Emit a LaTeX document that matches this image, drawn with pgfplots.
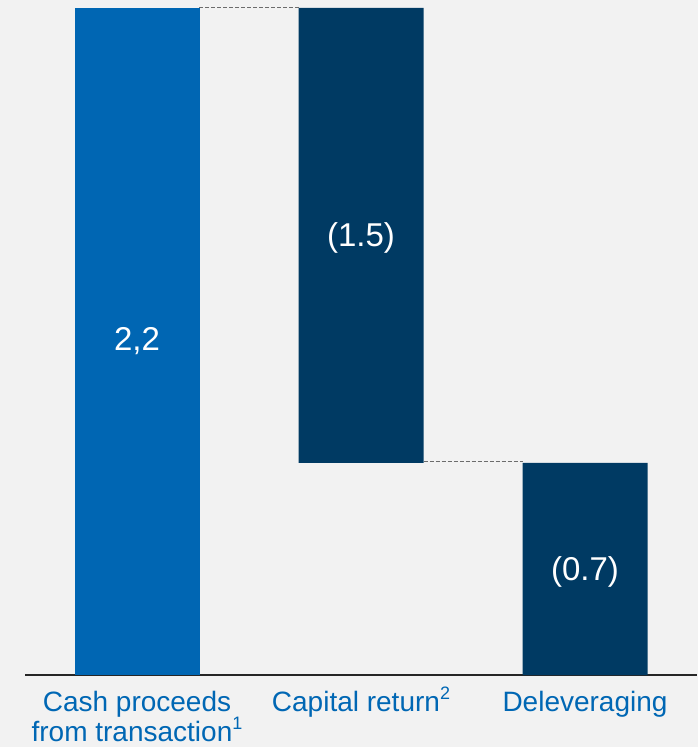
\documentclass[border=0pt]{standalone}
\usepackage{pgfplots}
\pgfplotsset{compat=1.18}
\usepackage{fontspec}
\setmainfont{Liberation Sans}
\definecolor{bgc}{HTML}{F2F2F2}
\definecolor{blueA}{HTML}{0066B3}
\definecolor{navy}{HTML}{003A63}
\definecolor{lab}{HTML}{0067B4}
\newcommand{\sups}[1]{\raisebox{0.42em}[0pt][0pt]{\fontsize{18}{18}\selectfont #1}}
\begin{document}
\begin{tikzpicture}[x=1pt,y=1pt]
\fill[bgc] (0,0) rectangle (698,747);
\begin{axis}[
  at={(25pt,72pt)}, anchor=south west,
  scale only axis, width=672pt, height=667pt,
  xmin=-0.5, xmax=2.5, ymin=0, ymax=2.2,
  axis x line=bottom, axis y line=none,
  x axis line style={-, black!85, line width=1.6pt},
  ytick=\empty, xtick={0,1,2}, major tick length=0pt,
  xticklabels={{Cash proceeds\\from transaction\sups{1}}, {Capital return\sups{2}}, Deleveraging},
  xticklabel style={align=center, font=\fontsize{28}{30}\selectfont, text=lab, inner sep=0pt, anchor=north, yshift=-16pt},
  ybar stacked, bar width=125pt,
  clip=false,
]
\addplot[fill=none, draw=none] coordinates {(0,0) (1,0.7) (2,0)};
\addplot[fill=blueA, draw=none] coordinates {(0,2.2) (1,0) (2,0)};
\addplot[fill=navy, draw=none] coordinates {(0,0) (1,1.5) (2,0.7)};
\end{axis}
\begin{axis}[
  at={(25pt,72pt)}, anchor=south west,
  scale only axis, width=672pt, height=667pt,
  xmin=-0.5, xmax=2.5, ymin=0, ymax=2.2,
  hide axis, clip=false,
]
\addplot[gray!85!black, dash pattern=on 4pt off 2pt, line width=1pt, no markers] coordinates {(0.279,2.203) (0.721,2.203)};
\addplot[gray!85!black, dash pattern=on 4pt off 2pt, line width=1pt, no markers] coordinates {(1.279,0.703) (1.721,0.703)};
\node[white, font=\fontsize{33}{33}\selectfont] at (axis cs:0,1.1) {2,2};
\node[white, font=\fontsize{33}{33}\selectfont] at (axis cs:1,1.44) {(1.5)};
\node[white, font=\fontsize{33}{33}\selectfont] at (axis cs:2,0.34) {(0.7)};
\end{axis}
\pgfresetboundingbox
\useasboundingbox (0,0) rectangle (698,747);
\end{tikzpicture}
\end{document}
